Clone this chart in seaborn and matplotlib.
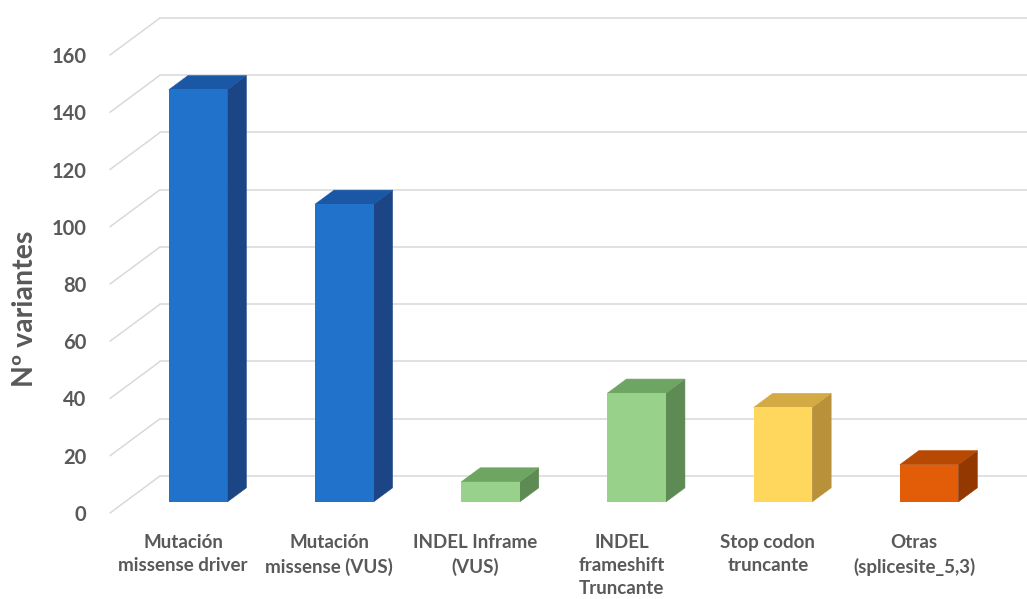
import matplotlib
matplotlib.use("Agg")
import matplotlib.pyplot as plt
import pandas as pd
import seaborn as sns
from matplotlib.patches import Polygon

# Variant categories and counts
categories = [
    "Mutación\nmissense driver",
    "Mutación\nmissense (VUS)",
    "INDEL Inframe\n(VUS)",
    "INDEL\nframeshift\nTruncante",
    "Stop codon\ntruncante",
    "Otras\n(splicesite_5,3)",
]
variantes = [144, 104, 7, 38, 33, 13]
y_ticks = [0, 20, 40, 60, 80, 100, 120, 140, 160]

# Face colours of each column: front, top, right side
front_colors = ["#2072ca", "#2072ca", "#97d18a", "#97d18a", "#ffd75c", "#e35c07"]
top_colors = ["#1a58a5", "#1a58a5", "#6ea563", "#6ea563", "#d3aa44", "#b84902"]
side_colors = ["#1c4586", "#1c4586", "#5e8b54", "#5e8b54", "#b8913a", "#933801"]

sns.set_theme(style="white")
plt.rcParams["font.family"] = ["Lato", "DejaVu Sans"]

W, H = 1027, 599
fig = plt.figure(figsize=(W / 100, H / 100), dpi=100)
ax = fig.add_axes([110 / W, 86 / H, 917 / W, 495 / H])

# Oblique projection of the chart depth (data units)
DX, DY = 0.342, 12.93
F0, F1 = 0.30, 0.68          # column front / back as a fraction of depth
XMAX = -0.5 + 917 / 146.2
YMAX = 495 / 2.8625
GRID = "#d9d9d9"

df = pd.DataFrame({"tipo": categories, "n": variantes})
sns.barplot(data=df, x="tipo", y="n", hue="tipo", palette=front_colors,
            width=0.40, saturation=1, legend=False, ax=ax, zorder=3,
            linewidth=0)

# Side wall and back wall gridlines
for v in y_ticks:
    ax.plot([-0.5, -0.5 + DX], [v, v + DY], color=GRID, lw=1.1,
            zorder=1, clip_on=False)
    ax.plot([-0.5 + DX, XMAX], [v + DY, v + DY], color=GRID, lw=1.1,
            zorder=1, clip_on=False)

# Push the front faces back into the depth and add top / side faces
ddx, ddy = (F1 - F0) * DX, (F1 - F0) * DY
bars = sorted(ax.patches, key=lambda p: p.get_x())
for p, v, ct, cs in zip(bars, variantes, top_colors, side_colors):
    p.set_x(p.get_x() + F0 * DX)
    p.set_y(F0 * DY)
    x0 = p.get_x()
    x1 = x0 + p.get_width()
    y0 = p.get_y()
    y1 = y0 + v
    side = Polygon([(x1, y0), (x1 + ddx, y0 + ddy), (x1 + ddx, y1 + ddy), (x1, y1)],
                   closed=True, facecolor=cs, edgecolor=cs, lw=0.4, zorder=2.9)
    top = Polygon([(x0, y1), (x1, y1), (x1 + ddx, y1 + ddy), (x0 + ddx, y1 + ddy)],
                  closed=True, facecolor=ct, edgecolor=ct, lw=0.4, zorder=2.9)
    ax.add_patch(side)
    ax.add_patch(top)

ax.set_xlim(-0.5, XMAX)
ax.set_ylim(0, YMAX)
sns.despine(ax=ax, left=True, bottom=True)

TXT = "#595959"
ax.set_yticks(y_ticks)
ax.set_yticklabels([str(t) for t in y_ticks])
ax.tick_params(axis="y", length=0, pad=17, labelsize=14.5, labelcolor=TXT)
ax.set_xticks(range(len(categories)))
ax.set_xticklabels(categories)
ax.tick_params(axis="x", length=0, pad=15, labelsize=13.5, labelcolor=TXT)
for lbl in ax.get_yticklabels():
    lbl.set_fontweight("bold")
for lbl in ax.get_xticklabels():
    lbl.set_fontweight("bold")
    lbl.set_linespacing(1.45)

ax.set_xlabel("")
ax.set_ylabel("Nº variantes", fontsize=20.5, fontweight="bold", color=TXT)
ax.yaxis.set_label_coords((25 - 110) / 917, (513 - 309) / 495)
ax.yaxis.label.set_verticalalignment("center")

fig.savefig("out.png", dpi=100, facecolor="white")
